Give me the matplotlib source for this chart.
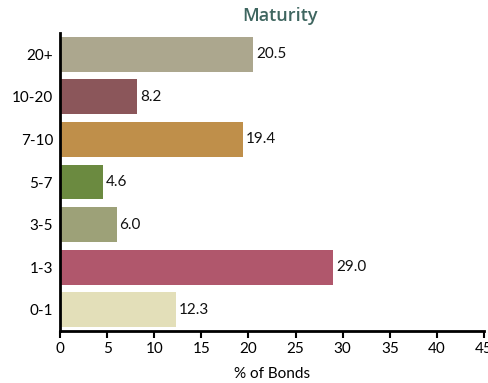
import matplotlib
matplotlib.use("Agg")
import matplotlib.pyplot as plt

categories = ["20+", "10-20", "7-10", "5-7", "3-5", "1-3", "0-1"]
values = [20.5, 8.2, 19.4, 4.6, 6.0, 29.0, 12.3]
colors = ["#aca78e", "#8b565a", "#bf8f4a", "#6b8a40", "#9da178", "#b0576c", "#e3dfb9"]
xticks = [0, 5, 10, 15, 20, 25, 30, 35, 40, 45]

plt.rcParams['font.family'] = ['Lato', 'DejaVu Sans']

fig = plt.figure(figsize=(4.89, 3.83), dpi=100)
ax = fig.add_axes([60/489, 1-331/383, 424/489, 298/383])

ypos = list(range(len(categories)))[::-1]
ax.barh(ypos, values, height=0.82, color=colors)
for y, v in zip(ypos, values):
    ax.text(v + 0.3, y, f"{v:.1f}", va="center", ha="left", fontsize=11, color="#111111")

ax.set_yticks(ypos)
ax.set_yticklabels(categories, fontsize=11)
ax.set_xticks(xticks)
ax.set_xticklabels([str(t) for t in xticks], fontsize=11)
ax.set_xlim(0, 45)
ax.set_ylim(-0.5, 6.5)
ax.tick_params(axis='y', length=0, pad=5)
ax.tick_params(axis='x', length=5, width=1.5, pad=3)
for s in ["top", "right"]:
    ax.spines[s].set_visible(False)
for s in ["left", "bottom"]:
    ax.spines[s].set_linewidth(2)
    ax.spines[s].set_color("black")
ax.spines["bottom"].set_clip_on(False)
ax.set_xlabel("% of Bonds", fontsize=11, labelpad=8)
fig.text(280/489, 1-16/383, "Maturity", ha="center", va="center", fontsize=13, color="#3f6660", fontweight="semibold", family=["Open Sans", "DejaVu Sans"])

fig.savefig("out.png", dpi=100)
